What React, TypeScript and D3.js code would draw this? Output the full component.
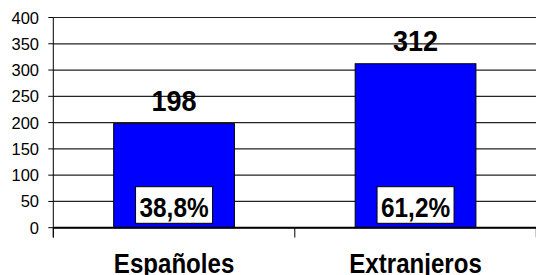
import React from "react";
import * as d3 from "d3";

const categories = ["Españoles", "Extranjeros"];
const values = [198, 312];
const percentLabels = ["38,8%", "61,2%"];
const yTicks = [0, 50, 100, 150, 200, 250, 300, 350, 400];

const W = 536;
const H = 275;
const FONT = "'Liberation Sans', Arial, sans-serif";

function NarrowText({ x, y, size, sx, children }: any) {
  return (
    <g transform={`translate(${x},${y}) scale(${sx},1)`}>
      <text x={0} y={0} textAnchor="middle" fontFamily={FONT} fontWeight="bold" fontSize={size} fill="#000">
        {children}
      </text>
    </g>
  );
}

export default function App() {
  const left = 53.3;
  const right = 536.3;
  const y = d3.scaleLinear().domain([0, 400]).range([227.7, 17.5]);
  const x = d3.scaleBand().domain(categories).range([left, right]).paddingInner(0.5).paddingOuter(0.25);
  const step = x.step();
  const boundaries = d3.range(categories.length + 1).map((i) => left + i * step);

  return (
    <svg width={W} height={H} style={{ position: "absolute", left: 0, top: 0, background: "#fff" }}>
      {yTicks.map((t) => (
        <g key={t}>
          <line x1={left} x2={right} y1={y(t)} y2={y(t)} stroke="#222" strokeWidth={1.2} />
          <line x1={left - 5} x2={left} y1={y(t)} y2={y(t)} stroke="#000" strokeWidth={1} />
          <text x={39} y={y(t) + 6} textAnchor="end" fontFamily={FONT} fontSize={16.5} fill="#000">
            {t}
          </text>
        </g>
      ))}
      {categories.map((c, i) => {
        const bx = x(c)!;
        const bw = x.bandwidth();
        const cx = bx + bw / 2;
        return (
          <g key={c}>
            <rect x={bx} y={y(values[i])} width={bw} height={y(0) - y(values[i])} fill="#0000FF" stroke="#000" strokeWidth={1} />
            <NarrowText x={cx} y={y(values[i]) - 12.4} size={30} sx={0.9}>
              {values[i]}
            </NarrowText>
            <rect x={cx - 38.5} y={y(0) - 41} width={77} height={36.6} fill="#fff" stroke="#000" strokeWidth={1} />
            <NarrowText x={cx} y={y(0) - 10.4} size={28} sx={0.87}>
              {percentLabels[i]}
            </NarrowText>
            <NarrowText x={cx} y={273.3} size={28} sx={0.86}>
              {c}
            </NarrowText>
          </g>
        );
      })}
      <line x1={left} x2={right} y1={y(0)} y2={y(0)} stroke="#000" strokeWidth={2} />
      <line x1={left} x2={left} y1={y(400)} y2={237.5} stroke="#000" strokeWidth={1} />
      {boundaries.map((b, i) => (
        <line key={i} x1={b} x2={b} y1={y(0)} y2={237.5} stroke="#000" strokeWidth={1} />
      ))}
    </svg>
  );
}
